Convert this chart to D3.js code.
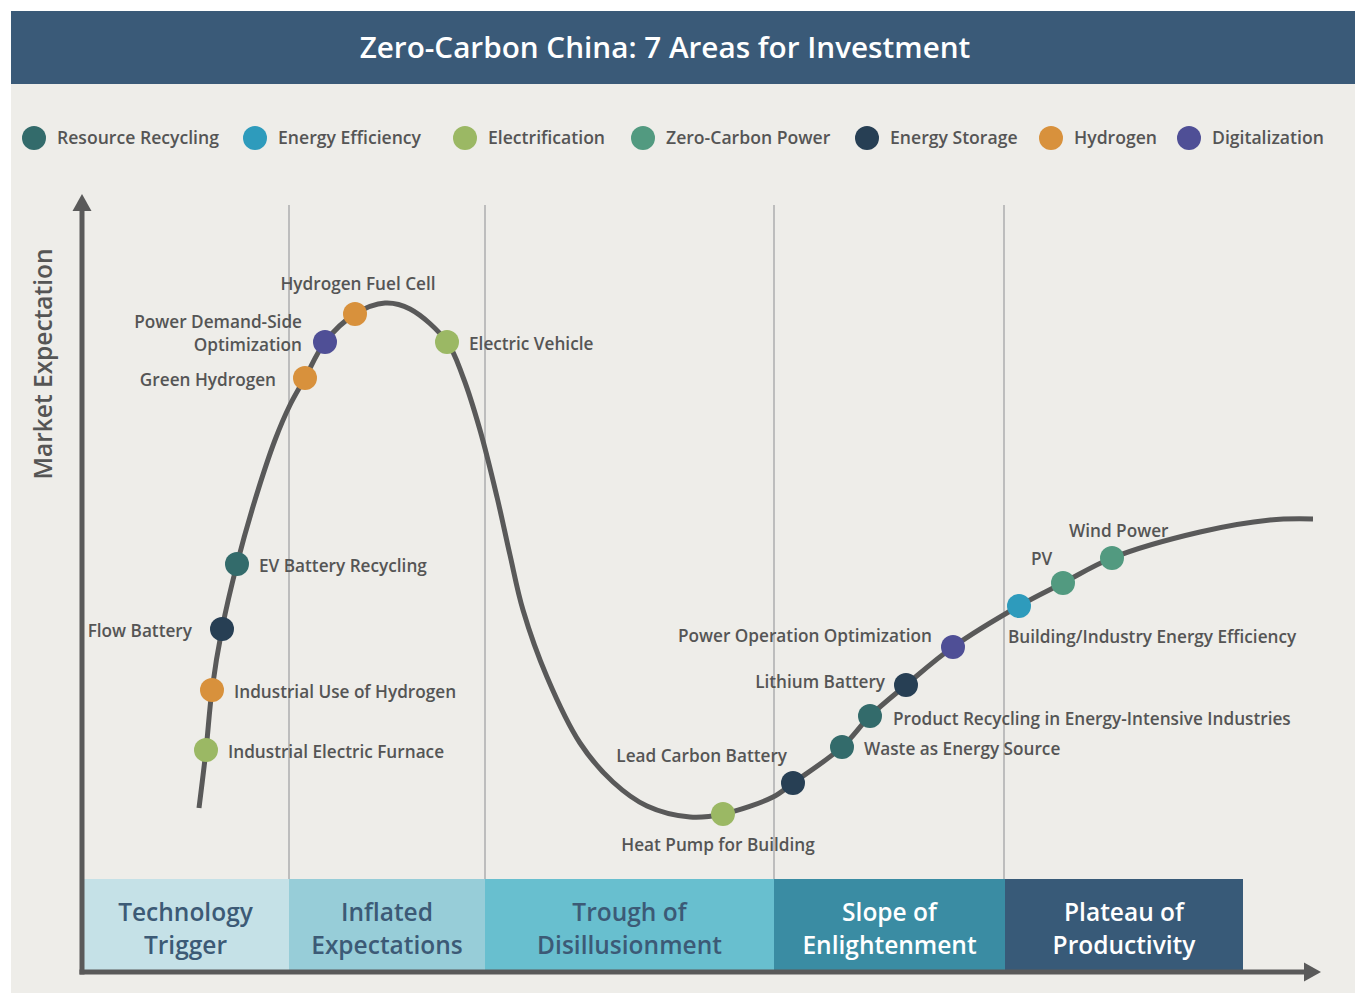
<!DOCTYPE html>
<html>
<head>
<meta charset="utf-8">
<script src="https://cdn.jsdelivr.net/npm/d3@7"></script>
<style>
  html, body { margin: 0; padding: 0; background: #ffffff; }
  svg { display: block; font-family: "Open Sans", Lato, sans-serif; }
</style>
</head>
<body>
<svg id="chart" width="1355" height="993"></svg>
<script>
// ---------- DATA ----------
const title = "Zero-Carbon China: 7 Areas for Investment";
const yAxisLabel = "Market Expectation";

const categories = ["Resource Recycling", "Energy Efficiency", "Electrification", "Zero-Carbon Power", "Energy Storage", "Hydrogen", "Digitalization"];
const categoryColors = ["#336b6b", "#2e9bbc", "#9bb864", "#529a80", "#273f54", "#d8913c", "#4f4f96"];

const phaseNames = [["Technology", "Trigger"], ["Inflated", "Expectations"], ["Trough of", "Disillusionment"], ["Slope of", "Enlightenment"], ["Plateau of", "Productivity"]];
const phaseBounds = [0, 20.7, 40.3, 69.2, 92.3, 116.1];
const phaseFills = ["#c5e1e7", "#97cdd8", "#68bfcf", "#3a8ca3", "#385a78"];
const phaseTextColors = ["#3c5a76", "#3c5a76", "#3c5a76", "#ffffff", "#ffffff"];
const gridTimes = [20.7, 40.3, 69.2, 92.2];

// hype-cycle curve (time, expectation)
const curveTime =   [11.7, 12.4, 13.0, 14.0, 15.5, 17.3, 19.3, 20.8, 22.3, 24.3, 27.3, 30.3, 32.8, 36.5, 38.1, 39.8, 41.5, 42.8, 44.1, 46.5, 49.8, 53.1, 56.5, 60.8, 64.1, 69.1, 71.1, 76.0, 78.8, 82.4, 87.1, 93.7, 98.1, 103.0, 111.8, 118.8, 123.1];
const curveExpect = [16.4, 22.2, 28.2, 34.3, 40.8, 47.2, 53.2, 56.7, 59.4, 63.0, 65.8, 66.9, 66.3, 63.0, 59.5, 54.2, 47.5, 41.7, 36.2, 29.5, 22.9, 19.0, 16.6, 15.5, 15.8, 17.5, 18.9, 22.5, 25.6, 28.7, 32.5, 36.6, 38.9, 41.4, 44.0, 45.2, 45.3];

// technologies on the curve
const techNames = ["Industrial Electric Furnace", "Industrial Use of Hydrogen", "Flow Battery", "EV Battery Recycling", "Green Hydrogen", "Power Demand-Side\nOptimization", "Hydrogen Fuel Cell", "Electric Vehicle", "Heat Pump for Building", "Lead Carbon Battery", "Waste as Energy Source", "Product Recycling in Energy-Intensive Industries", "Lithium Battery", "Power Operation Optimization", "Building/Industry Energy Efficiency", "PV", "Wind Power"];
const techCategory = ["Electrification", "Hydrogen", "Energy Storage", "Resource Recycling", "Hydrogen", "Digitalization", "Hydrogen", "Electrification", "Electrification", "Energy Storage", "Resource Recycling", "Resource Recycling", "Energy Storage", "Digitalization", "Energy Efficiency", "Zero-Carbon Power", "Zero-Carbon Power"];
const techTime =   [12.4, 13.0, 14.0, 15.5, 22.3, 24.3, 27.3, 36.5, 64.1, 71.1, 76.0, 78.8, 82.4, 87.1, 93.7, 98.1, 103.0];
const techExpect = [22.2, 28.2, 34.3, 40.8, 59.4, 63.0, 65.8, 63.0, 15.8, 18.9, 22.5, 25.6, 28.7, 32.5, 36.6, 38.9, 41.4];

// label placement (layout only): anchor, dx, dy in px relative to the dot
const labelLayout = [
  ["start", 22, 2], ["start", 22, 2], ["end", -30, 2], ["start", 22, 2],
  ["end", -29, 2], ["end", -23, -20], ["middle", 3, -30], ["start", 22, 2],
  ["middle", -5, 31], ["end", -6, -27], ["start", 22, 2], ["start", 23, 3],
  ["end", -21, -3], ["end", -21, -11], ["start", -11, 31], ["start", -32, -24],
  ["start", -43, -27]
];

// ---------- LAYOUT ----------
const svg = d3.select("#chart");
const W = 1355, H = 993;
const x = d3.scaleLinear().domain([0, 124]).range([82, 1322]);
const y = d3.scaleLinear().domain([0, 77.7]).range([972, 195]);
const color = d3.scaleOrdinal().domain(categories).range(categoryColors);

const textGray = "#555555";
const axisGray = "#5a5a5a";

// background panel
svg.append("rect").attr("x", 11).attr("y", 11).attr("width", W - 11).attr("height", H - 11).attr("fill", "#eeede9");
// title bar
svg.append("rect").attr("x", 11).attr("y", 11).attr("width", W - 11).attr("height", 73).attr("fill", "#3a5a78");
svg.append("text").attr("x", 665).attr("y", 48).attr("dy", "0.35em")
  .attr("text-anchor", "middle").attr("fill", "#ffffff")
  .style("font-size", "29.7px").style("font-weight", 600).text(title);

// legend
const legendX = [34, 255, 465, 643, 867, 1051, 1189];
const legend = svg.append("g");
categories.forEach((c, i) => {
  legend.append("circle").attr("cx", legendX[i]).attr("cy", 138).attr("r", 12).attr("fill", color(c));
  legend.append("text").attr("x", legendX[i] + 23).attr("y", 138).attr("dy", "0.35em")
    .attr("fill", textGray).style("font-size", "17.6px").style("font-weight", 600).text(c);
});

// phase boxes
const phases = svg.append("g");
phaseNames.forEach((p, i) => {
  const x0 = x(phaseBounds[i]), x1 = x(phaseBounds[i + 1]);
  phases.append("rect").attr("x", x0).attr("y", y(9.3)).attr("width", x1 - x0).attr("height", y(0) - y(9.3)).attr("fill", phaseFills[i]);
  const t = phases.append("text").attr("text-anchor", "middle").attr("fill", phaseTextColors[i])
    .style("font-size", "24.5px").style("font-weight", 600);
  p.forEach((line, j) => {
    t.append("tspan").attr("x", (x0 + x1) / 2).attr("y", 912 + j * 33).attr("dy", "0.35em").text(line);
  });
});

// grid lines
svg.append("g").selectAll("line").data(gridTimes).join("line")
  .attr("x1", d => x(d)).attr("x2", d => x(d))
  .attr("y1", y(76.7)).attr("y2", y(9.3))
  .attr("stroke", "#bdbdbd").attr("stroke-width", 2);

// axes
const axisTipX = x(123.9), axisTipY = y(77.8);
svg.append("line").attr("x1", x(0)).attr("x2", x(0)).attr("y1", y(0) + 2.5).attr("y2", axisTipY + 14)
  .attr("stroke", axisGray).attr("stroke-width", 5);
svg.append("path").attr("d", `M${x(0)},${axisTipY} L${x(0) - 9.5},${axisTipY + 17} L${x(0) + 9.5},${axisTipY + 17} Z`).attr("fill", axisGray);
svg.append("line").attr("x1", x(0) - 2.5).attr("x2", axisTipX - 14).attr("y1", y(0)).attr("y2", y(0))
  .attr("stroke", axisGray).attr("stroke-width", 5);
svg.append("path").attr("d", `M${axisTipX},${y(0)} L${axisTipX - 17},${y(0) - 9.5} L${axisTipX - 17},${y(0) + 9.5} Z`).attr("fill", axisGray);

svg.append("text").attr("transform", `translate(43,364) rotate(-90)`).attr("dy", "0.35em")
  .attr("text-anchor", "middle").attr("fill", textGray)
  .style("font-size", "24.5px").style("font-weight", 600).text(yAxisLabel);

// curve
const curvePts = curveTime.map((t, i) => [t, curveExpect[i]]);
const line = d3.line().x(d => x(d[0])).y(d => y(d[1])).curve(d3.curveCatmullRom.alpha(0.5));
svg.append("path").datum(curvePts).attr("d", line)
  .attr("fill", "none").attr("stroke", "#595959").attr("stroke-width", 5).attr("stroke-linecap", "butt");

// technology dots and labels
const techs = techNames.map((n, i) => ({ name: n, cat: techCategory[i], t: techTime[i], e: techExpect[i], lay: labelLayout[i] }));
svg.append("g").selectAll("circle").data(techs).join("circle")
  .attr("cx", d => x(d.t)).attr("cy", d => y(d.e)).attr("r", 12).attr("fill", d => color(d.cat));

const labels = svg.append("g");
techs.forEach(d => {
  const [anchor, dx, dy] = d.lay;
  const t = labels.append("text").attr("text-anchor", anchor).attr("fill", textGray)
    .style("font-size", "17.2px").style("font-weight", 600);
  d.name.split("\n").forEach((ln, j) => {
    t.append("tspan").attr("x", x(d.t) + dx).attr("y", y(d.e) + dy + j * 23).attr("dy", "0.35em").text(ln);
  });
});
</script>
</body>
</html>
